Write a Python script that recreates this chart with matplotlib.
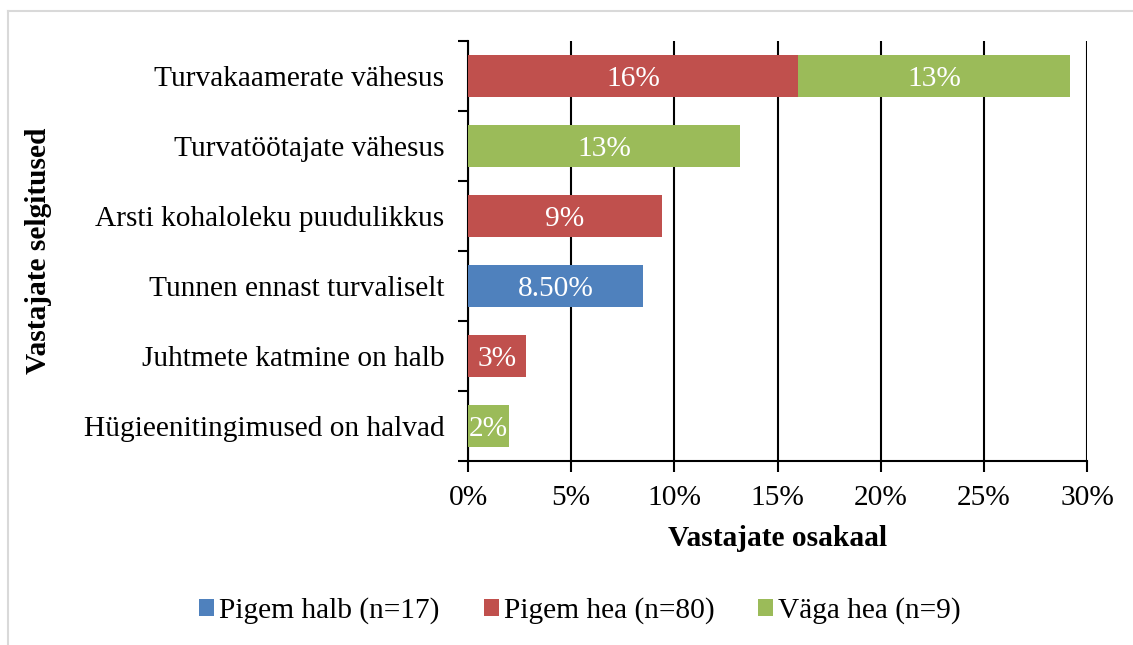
import numpy as np
import matplotlib
matplotlib.use("Agg")
import matplotlib.pyplot as plt
from matplotlib.lines import Line2D

# categories top to bottom
categories = [
    "Turvakaamerate vähesus",
    "Turvatöötajate vähesus",
    "Arsti kohaloleku puudulikkus",
    "Tunnen ennast turvaliselt",
    "Juhtmete katmine on halb",
    "Hügieenitingimused on halvad",
]
series_names = ["Pigem halb (n=17)", "Pigem hea (n=80)", "Väga hea (n=9)"]
pigem_halb = [0, 0, 0, 8.5, 0, 0]
pigem_hea = [16.0, 0, 9.4, 0, 2.8, 0]
vaga_hea = [13.2, 13.2, 0, 0, 0, 2.0]
labels_halb = ["", "", "", "8.50%", "", ""]
labels_hea = ["16%", "", "9%", "", "3%", ""]
labels_vaga = ["13%", "13%", "", "", "", "2%"]
x_ticks = [0, 5, 10, 15, 20, 25, 30]

colors = ["#4F81BD", "#C0504D", "#9BBB59"]

plt.rcParams["font.family"] = ["Liberation Serif", "DejaVu Serif"]
FS = 21.2

fig = plt.figure(figsize=(11.33, 6.45), dpi=100)
ax = fig.add_axes([468 / 1133, 1 - 461 / 645, (1087 - 468) / 1133, (461 - 41) / 645])

y = np.arange(len(categories))[::-1]
left = np.zeros(len(categories))
for vals, labs, col, name in zip([pigem_halb, pigem_hea, vaga_hea],
                                 [labels_halb, labels_hea, labels_vaga],
                                 colors, series_names):
    vals = np.array(vals, dtype=float)
    bars = ax.barh(y, vals, left=left, height=0.6, color=col, label=name, zorder=3)
    for b, v, lab in zip(bars, vals, labs):
        if v > 0 and lab:
            ax.text(b.get_x() + b.get_width() / 2, b.get_y() + b.get_height() / 2, lab,
                    ha="center", va="center_baseline", color="white", fontsize=FS, zorder=4)
    left += vals

ax.set_xlim(0, 30)
ax.set_ylim(-0.5, len(categories) - 0.5)
ax.set_xticks(x_ticks)
ax.set_xticklabels([f"{t}%" for t in x_ticks], fontsize=FS)
ax.xaxis.grid(True, color="black", lw=1.5, zorder=0)
ax.set_axisbelow(True)

# category labels between the boundary ticks (Excel style)
ax.set_yticks(np.arange(-0.5, len(categories), 1.0))
ax.set_yticklabels([])
ax.set_yticks(y, minor=True)
ax.set_yticklabels(categories, minor=True, fontsize=FS)
ax.tick_params(axis="y", which="minor", length=0, pad=17)
ax.tick_params(axis="y", which="major", length=7, width=1.5, direction="out")
ax.tick_params(axis="x", length=8, width=1.5, direction="out", pad=9)

for s in ["top", "right"]:
    ax.spines[s].set_visible(False)
ax.spines["left"].set_linewidth(1.5)
ax.spines["bottom"].set_linewidth(1.5)

ax.set_xlabel("Vastajate osakaal", fontsize=FS, fontweight="bold", labelpad=10)
ax.set_ylabel("Vastajate selgitused", fontsize=FS, fontweight="bold")
ax.yaxis.set_label_coords(-0.672, 0.5)

handles, labs = ax.get_legend_handles_labels()
fig.legend(handles, labs, loc="center", bbox_to_anchor=(0.512, 1 - 611 / 645), ncol=3,
           frameon=False, fontsize=FS, handlelength=0.51, handleheight=0.51,
           handletextpad=0.17, columnspacing=1.5)

# light grey chart frame (cut off at right and bottom)
fig.add_artist(Line2D([8 / 1133, 1], [1 - 11 / 645] * 2, transform=fig.transFigure,
                      color="#D9D9D9", lw=1.5))
fig.add_artist(Line2D([8 / 1133] * 2, [0, 1 - 11 / 645], transform=fig.transFigure,
                      color="#D9D9D9", lw=1.5))

fig.savefig("out.png", dpi=100)
